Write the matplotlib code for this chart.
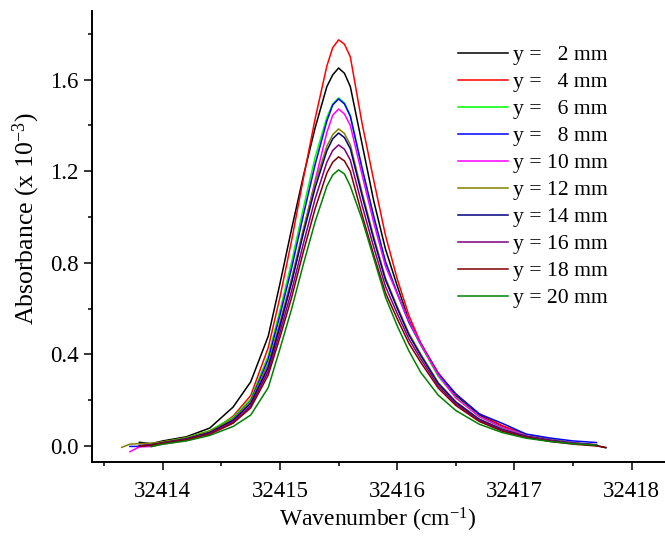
import numpy as np
import matplotlib
matplotlib.use('Agg')
import matplotlib.pyplot as plt
from matplotlib.ticker import MultipleLocator

nan = np.nan

# common wavenumber grid (cm-1)
wavenumber = [32413.65, 32413.72, 32413.8, 32413.9, 32414.0, 32414.2, 32414.4, 32414.6,
              32414.75, 32414.9, 32415.0, 32415.1, 32415.2, 32415.3, 32415.4, 32415.45, 32415.5,
              32415.55, 32415.6, 32415.7, 32415.8, 32415.9, 32416.0, 32416.1, 32416.2, 32416.35,
              32416.5, 32416.7, 32416.9, 32417.1, 32417.3, 32417.5, 32417.7, 32417.78]

# absorbance (x 1e-3) at each height y
abs_2mm = [nan, nan, 0.016, 0.010, 0.022, 0.040, 0.078, 0.17, 0.28, 0.48, 0.71, 0.95, 1.18, 1.39, 1.57, 1.621, 1.651,
           1.628, 1.57, 1.32, 1.07, 0.86, 0.70, 0.55, 0.45, 0.31, 0.22, 0.135, 0.085, 0.048, 0.028, 0.014, 0.002, -0.008]
abs_4mm = [nan, nan, 0.000, 0.005, 0.012, 0.030, 0.058, 0.13, 0.22, 0.43, 0.65, 0.90, 1.17, 1.43, 1.66, 1.740, 1.774,
           1.755, 1.70, 1.41, 1.16, 0.92, 0.73, 0.57, 0.45, 0.32, 0.225, 0.14, 0.088, 0.05, 0.028, 0.014, 0.004, nan]
abs_6mm = [nan, nan, nan, 0.004, 0.017, 0.036, 0.067, 0.125, 0.205, 0.395, 0.593, 0.806, 1.041, 1.262, 1.436, 1.494, 1.520,
           1.498, 1.444, 1.216, 1.003, 0.806, 0.669, 0.540, 0.441, 0.304, 0.213, 0.129, 0.079, 0.047, 0.027, 0.014, 0.005, nan]
abs_8mm = [nan, -0.002, -0.002, 0.003, 0.014, 0.032, 0.062, 0.118, 0.196, 0.380, 0.572, 0.779, 1.010, 1.230, 1.420, 1.490, 1.516,
           1.494, 1.440, 1.213, 1.001, 0.804, 0.667, 0.540, 0.445, 0.315, 0.228, 0.140, 0.098, 0.052, 0.035, 0.022, 0.015, nan]
abs_10mm = [nan, -0.025, -0.004, -0.002, 0.008, 0.024, 0.050, 0.100, 0.175, 0.335, 0.520, 0.718, 0.940, 1.160, 1.370, 1.445, 1.472,
            1.450, 1.400, 1.185, 0.975, 0.785, 0.665, 0.545, 0.445, 0.310, 0.210, 0.128, 0.080, 0.045, 0.026, 0.013, 0.006, nan]
abs_12mm = [-0.006, 0.008, 0.010, 0.012, 0.018, 0.035, 0.065, 0.118, 0.194, 0.360, 0.540, 0.734, 0.949, 1.150, 1.309, 1.360, 1.385,
            1.365, 1.316, 1.108, 0.914, 0.734, 0.609, 0.492, 0.402, 0.277, 0.194, 0.118, 0.072, 0.043, 0.025, 0.012, 0.004, nan]
abs_14mm = [nan, nan, 0.002, 0.005, 0.014, 0.031, 0.058, 0.112, 0.186, 0.345, 0.525, 0.717, 0.930, 1.128, 1.290, 1.342, 1.367,
            1.347, 1.299, 1.094, 0.902, 0.725, 0.602, 0.485, 0.396, 0.273, 0.191, 0.116, 0.071, 0.042, 0.025, 0.012, 0.004, nan]
abs_16mm = [nan, nan, 0.000, 0.004, 0.013, 0.029, 0.055, 0.106, 0.175, 0.325, 0.497, 0.680, 0.885, 1.080, 1.240, 1.291, 1.315,
            1.296, 1.249, 1.052, 0.868, 0.697, 0.579, 0.467, 0.381, 0.263, 0.184, 0.112, 0.068, 0.041, 0.024, 0.012, 0.004, nan]
abs_18mm = [nan, nan, -0.002, 0.003, 0.012, 0.027, 0.052, 0.100, 0.166, 0.310, 0.475, 0.650, 0.850, 1.037, 1.192, 1.240, 1.263,
            1.245, 1.200, 1.010, 0.834, 0.669, 0.556, 0.448, 0.366, 0.253, 0.177, 0.107, 0.064, 0.038, 0.020, 0.008, 0.000, -0.006]
abs_20mm = [nan, nan, nan, -0.003, 0.008, 0.022, 0.046, 0.085, 0.135, 0.255, 0.425, 0.600, 0.795, 0.980, 1.135, 1.184, 1.206,
            1.188, 1.135, 0.990, 0.820, 0.650, 0.525, 0.415, 0.322, 0.222, 0.155, 0.095, 0.058, 0.034, 0.020, 0.010, 0.004, nan]

series = [abs_2mm, abs_4mm, abs_6mm, abs_8mm, abs_10mm, abs_12mm, abs_14mm, abs_16mm, abs_18mm, abs_20mm]
labels = ['y =   2 mm', 'y =   4 mm', 'y =   6 mm', 'y =   8 mm', 'y = 10 mm',
          'y = 12 mm', 'y = 14 mm', 'y = 16 mm', 'y = 18 mm', 'y = 20 mm']
colors = ['#000000', '#FF0000', '#00FF00', '#0000FF', '#FF00FF',
          '#808000', '#000080', '#800080', '#800000', '#008000']

plt.rcParams['font.family'] = ['Liberation Serif', 'DejaVu Serif']
plt.rcParams['mathtext.fontset'] = 'custom'
plt.rcParams['mathtext.rm'] = 'Liberation Serif'
plt.rcParams['mathtext.it'] = 'Liberation Serif:italic'

fig = plt.figure(figsize=(6.65, 5.36), dpi=100)
ax = fig.add_axes([92/665, 74/536, 573/665, 451/536])

for yv, lab, col in zip(series, labels, colors):
    ax.plot(wavenumber, yv, color=col, lw=1.1, label=lab)

ax.set_xlim(32413.396, 32418.285)
ax.set_ylim(-0.070, 1.90)
ax.xaxis.set_major_locator(MultipleLocator(1))
ax.xaxis.set_minor_locator(MultipleLocator(0.5))
ax.yaxis.set_major_locator(MultipleLocator(0.4))
ax.yaxis.set_minor_locator(MultipleLocator(0.2))
ax.xaxis.set_major_formatter(plt.FuncFormatter(lambda v, p: '%d' % round(v)))
ax.yaxis.set_major_formatter(plt.FuncFormatter(lambda v, p: '%.1f' % v))

for s in ['top', 'right']:
    ax.spines[s].set_visible(False)
for s in ['left', 'bottom']:
    ax.spines[s].set_linewidth(1.4)

ax.tick_params(which='major', direction='out', length=6, width=1.1, labelsize=16.5)
ax.tick_params(which='minor', direction='out', length=3.2, width=1.1)
ax.tick_params(axis='x', which='major', pad=8)
ax.tick_params(axis='y', which='major', pad=3.5)

ax.set_xlabel('Wavenumber (cm$^{-1}$)', fontsize=17)
ax.set_ylabel('Absorbance (x 10$^{-3}$)', fontsize=18.5)
ax.xaxis.set_label_coords(0.499, -0.097)
ax.yaxis.set_label_coords(-0.087, 0.539)

ax.legend(loc='upper left', bbox_to_anchor=(458/665, 1 - 45/536), bbox_transform=fig.transFigure,
          frameon=False, fontsize=15.6, handlelength=2.3, handletextpad=0.23,
          labelspacing=0.315, borderpad=0, borderaxespad=0)

fig.savefig('out.png', dpi=100)
